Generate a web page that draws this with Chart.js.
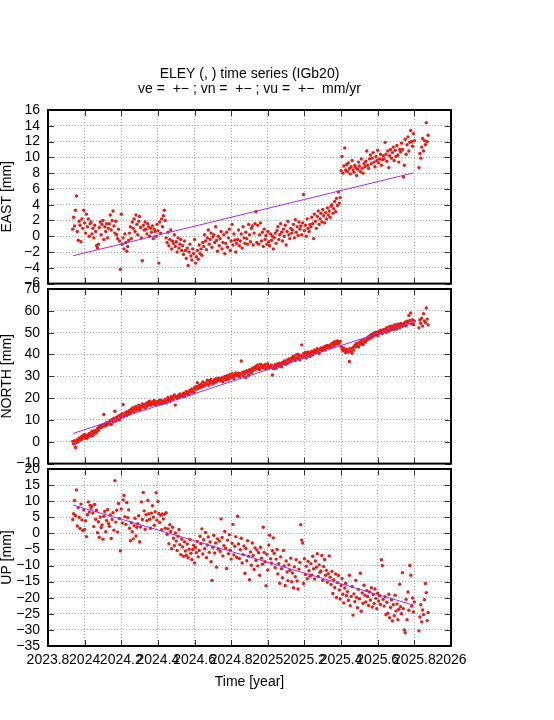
<!DOCTYPE html>
<html>
<head>
<meta charset="utf-8">
<title>ELEY time series</title>
<script src="https://cdn.jsdelivr.net/npm/chart.js@4.4.1/dist/chart.umd.min.js"></script>
<style>
  html, body { margin: 0; padding: 0; background: #fff; }
  #wrap { position: relative; width: 554px; height: 720px; }
  #wrap canvas { position: absolute; left: 0; }
</style>
</head>
<body>
<div id="wrap">
  <canvas id="eastChart" width="554" height="300" style="top:0px"></canvas>
  <canvas id="northChart" width="554" height="210" style="top:270px"></canvas>
  <canvas id="upChart" width="554" height="270" style="top:450px"></canvas>
</div>
<script>
// solutions every 0.005 yr starting at T0, null = no solution (gap before the last days)
const T0 = 2023.935;
const DT = 0.005;

const EAST = [
  0.9, 2.4, 1.3, 3.3, 5.1, 0.6, -0.5, 1.9, 1.4, -0.7, 2.2, 1.0, 3.3, 1.7, 0.4, 2.8, 1.2, 2.2, 0.0, 1.6,
  1.8, 0.3, 1.0, -0.2, 1.4, 0.6, -1.2, -1.5, -1.0, 1.1, 1.8, 0.2, 1.5, 2.0, -0.4, 1.2, 0.6, 1.6, -0.2, 1.0,
  1.6, 2.7, 0.8, 2.0, 3.2, 1.3, 0.4, 1.9, 0.2, -0.3, 0.9, -0.6, -4.2, 2.8, -1.0, -0.2, -1.6, 0.3, -0.8, -1.9,
  -1.3, -0.5, 0.4, 1.2, -0.3, 1.8, 1.0, 2.2, 0.6, 2.7, 1.5, 0.2, 1.9, 2.5, 1.1, -0.2, -3.1, 1.4, 0.8, 1.8,
  0.9, 0.3, 1.6, 1.2, 0.0, 1.0, 0.5, 1.3, -0.3, 0.9, 0.6, 0.0, 1.5, 0.7, -3.4, 1.8, 0.4, 2.2, 1.2, 2.6,
  3.3, 2.0, -0.2, -0.8, 0.5, -1.2, -0.4, 0.8, -1.6, -0.6, -0.9, 0.2, -1.3, -0.7, -2.0, -0.2, -1.5, -1.0, -0.4, -1.8,
  -1.2, -2.3, -0.6, -1.8, -2.8, -1.5, -3.7, -2.0, -1.0, -2.5, -3.0, -1.6, -2.2, -0.4, -3.4, -2.6, -1.8, -2.9, -1.1, -2.2,
  -1.6, -2.4, -0.8, -1.3, 0.2, -0.6, -1.7, -0.2, 0.8, -1.0, -0.4, 0.4, -1.4, -0.1, 0.2, -0.8, 1.2, -0.5, -1.9, 0.0,
  -1.2, -0.3, 0.6, -1.6, -0.8, 0.2, -2.2, -0.9, 0.5, -1.4, -0.2, 0.9, -1.8, -0.6, 1.5, -1.1, 0.3, -0.5, -2.0, -0.9,
  -0.4, 0.8, -1.2, -0.6, 0.3, -1.5, 1.2, -0.2, -0.9, 0.5, -0.3, -1.0, 1.5, 0.2, -0.7, 1.0, 1.3, -1.1, 0.4, 1.6,
  3.1, -0.8, 1.4, -1.0, 0.2, 1.7, -0.6, 0.5, -1.3, 0.9, -0.4, 0.1, -1.0, 0.6, -0.7, -1.2, 0.3, -0.5, 0.0, -1.6,
  -0.2, 0.4, -0.9, 0.7, 1.2, -0.4, 0.2, 1.6, 0.5, -0.6, 0.9, 0.0, 1.4, -1.1, 0.6, 1.9, 0.2, -0.3, 1.0, 0.4,
  0.8, 1.5, -0.2, 2.1, 0.5, 1.2, 0.1, 1.8, 0.9, 1.3, 0.2, 1.7, 5.3, 0.7, 1.4, 0.0, 2.2, 1.0, 0.6, 1.5,
  1.2, 2.4, 1.6, -0.3, 2.8, 1.9, 1.0, 2.5, 3.2, 1.5, 2.2, 2.9, 1.8, 3.4, 2.6, 1.7, 3.0, 2.2, 3.6, 2.7,
  3.2, 2.4, 3.8, 4.0, 2.9, 3.5, 4.4, 3.1, 4.8, 3.9, 5.6, 4.2, 4.9, 8.3, 10.1, 8.0, 8.9, 11.2, 8.4, 9.1,
  8.2, 9.3, 8.6, 7.9, 8.8, 9.6, 8.4, 8.1, 9.0, 8.7, 7.7, 8.5, 9.4, 8.9, 8.2, 9.8, 8.6, 8.0, 9.2, 8.8,
  9.5, 10.8, 9.0, 8.6, 9.8, 10.3, 9.2, 9.9, 10.6, 9.4, 8.8, 10.1, 9.6, 10.9, 9.3, 9.8, 10.4, 9.0, 9.7, 10.2,
  9.8, 11.9, 10.4, 9.5, 10.8, 8.7, 10.2, 11.0, 9.9, 10.6, 11.3, 9.6, 10.9, 10.1, 11.5, 10.3, 9.4, 11.0, 10.7, 11.8,
  11.0, 7.5, 9.0, 12.3, 10.4, 11.6, 12.6, 10.8, 11.9, 13.4, 12.0, 11.4, 13.0, 12.1, null, null, null, null, 8.7, 10.5,
  9.9, 11.3, 12.4, 10.8, 12.1, 11.6, 14.4, 12.0, 12.8
];

const NORTH = [
  0.2, -1.0, 0.5, -2.6, -0.3, 1.0, 0.0, 1.6, 0.8, 2.2, 1.1, 2.8, 1.9, 3.3, 2.4, 1.5, 3.0, 2.2, 3.8, 2.7,
  3.6, 4.8, 2.9, 4.1, 5.2, 3.9, 4.6, 6.1, 5.3, 7.0, 6.4, 7.5, 6.8, 7.9, 12.5, 7.2, 8.5, 7.6, 9.0, 8.1,
  8.4, 9.6, 7.9, 10.2, 9.1, 10.8, 14.0, 9.5, 11.3, 10.4, 11.8, 10.0, 12.2, 11.1, 12.9, 17.0, 11.6, 12.7, 13.5, 12.0,
  13.8, 12.6, 14.4, 13.2, 15.0, 14.1, 15.6, 13.7, 14.9, 16.2, 15.3, 14.5, 16.8, 15.7, 14.8, 16.4, 17.3, 15.9, 16.9, 15.4,
  17.5, 16.3, 18.1, 17.0, 18.6, 16.8, 17.7, 18.3, 17.2, 18.9, 17.6, 16.9, 18.4, 17.9, 18.8, 17.3, 19.2, 18.0, 17.5, 18.7,
  18.2, 19.4, 17.8, 18.9, 20.3, 19.0, 18.5, 19.9, 20.8, 19.3, 20.1, 21.4, 16.8, 20.6, 19.7, 21.1, 20.4, 21.9, 20.9, 21.5,
  21.0, 22.3, 20.7, 21.8, 23.1, 22.0, 22.7, 21.5, 23.6, 22.9, 24.2, 23.3, 22.6, 24.8, 23.9, 25.4, 27.1, 24.4, 25.8, 24.9,
  26.3, 25.1, 27.4, 26.0, 25.6, 27.0, 26.6, 28.2, 25.9, 27.7, 26.8, 28.6, 27.3, 26.5, 28.0, 27.2, 28.9, 27.6, 28.4, 29.1,
  27.9, 28.7, 28.1, 29.4, 27.5, 28.8, 29.9, 28.3, 29.2, 30.4, 28.6, 29.7, 30.9, 29.5, 31.2, 30.1, 29.0, 30.7, 31.5, 30.3,
  30.6, 31.4, 29.8, 30.9, 37.0, 31.7, 30.2, 32.1, 31.0, 29.5, 32.6, 31.8, 30.5, 33.0, 32.3, 31.5, 33.6, 32.8, 34.1, 33.2,
  34.6, 33.4, 35.2, 34.0, 33.1, 35.6, 34.4, 35.0, 33.8, 34.9, 35.4, 33.6, 34.3, 35.8, 34.7, 33.9, 34.5, 35.1, 30.6, 33.5,
  34.2, 35.3, 33.7, 34.9, 35.8, 34.6, 36.0, 35.2, 34.4, 36.3, 35.7, 37.0, 36.5, 35.5, 37.4, 36.1, 38.0, 37.2, 36.6, 38.4,
  37.8, 39.2, 38.5, 37.2, 39.8, 38.3, 40.1, 38.9, 37.6, 39.5, 44.4, 38.7, 40.4, 39.3, 40.9, 38.4, 39.9, 41.2, 40.2, 39.1,
  40.6, 41.5, 39.8, 41.0, 42.1, 40.9, 41.7, 42.6, 41.2, 40.5, 42.3, 43.0, 41.8, 42.7, 43.4, 42.0, 43.8, 42.9, 44.1, 43.3,
  43.6, 44.4, 43.2, 44.9, 45.3, 44.0, 45.8, 44.7, 45.5, 46.2, 44.9, 45.7, 46.0, 43.8, 42.5, 41.7, 43.0, 42.2, 40.9, 41.6,
  42.4, 41.2, 36.8, 42.8, 41.5, 40.6, 43.2, 42.0, 44.3, 43.6, 45.1, 44.0, 43.4, 45.5, 44.7, 46.3, 45.2, 44.5, 46.8, 45.6,
  46.2, 47.5, 46.9, 48.1, 47.3, 48.8, 47.7, 49.3, 48.4, 49.9, 48.9, 50.2, 49.5, 48.7, 50.6, 49.8, 51.1, 50.3, 49.6, 51.4,
  50.8, 51.6, 50.2, 52.3, 51.2, 50.7, 52.8, 51.9, 51.3, 53.1, 52.4, 51.5, 53.6, 52.7, 51.8, 53.9, 53.0, 52.2, 54.2, 53.4,
  52.9, 54.1, 53.5, 54.8, 53.2, 55.2, 54.4, 57.9, 55.6, 59.0, 54.0, 55.9, 53.7, 55.3, null, null, null, null, 52.2, 55.8,
  54.3, 56.6, 53.0, 58.7, 55.4, 54.6, 61.3, 56.2, 53.6
];

const UP = [
  4.3, 6.1, 10.2, 5.5, 13.5, 2.3, 8.0, 5.0, 1.5, 9.1, 4.2, 0.9, 7.3, 1.2, 3.9, -1.0, 5.8, 9.8, 6.6, 8.7,
  7.9, 8.5, 6.3, 2.1, 9.0, 4.4, 7.2, 0.2, 3.6, -1.2, 5.1, 1.8, 2.6, -1.8, 5.3, 6.8, 0.5, 4.0, 7.4, 3.1,
  2.2, 5.7, -1.6, 4.3, 6.4, 1.0, 16.4, 3.5, 7.2, 0.4, 9.3, 4.6, -5.4, 7.6, 3.2, 10.4, 11.8, 5.2, 2.8, 9.6,
  4.9, 7.3, 1.6, -2.3, 3.3, 0.5, -1.7, 2.4, 4.7, -0.8, 1.9, 3.0, 5.5, -2.6, 2.0, 9.8, 4.3, 12.7, 7.0, 1.3,
  5.8, 3.9, 10.2, 6.1, 4.4, 1.6, 6.3, 8.6, 5.0, 2.5, 6.7, 12.6, 4.1, 9.9, 6.2, 3.4, 5.6, 1.1, 6.0, 4.5,
  5.9, 1.6, 6.4, -0.3, 1.4, -3.2, 2.7, 0.6, -4.8, 1.9, -1.5, -3.8, 0.1, -2.4, -5.3, -0.9, 1.2, -3.5, -6.6, -1.8,
  -4.2, -7.1, -2.6, -5.5, -6.8, -3.3, -7.6, -4.9, -1.9, -6.2, -8.1, -5.0, -3.7, -9.2, -4.4, -6.0, -2.5, -7.3, -5.3, -0.9,
  -3.2, 1.4, -6.4, -2.0, -4.8, 0.3, -7.5, -3.6, -1.1, -5.9, -2.7, -8.8, -14.6, -4.3, -0.6, -6.1, -3.0, -10.5, -1.7, -4.9,
  -2.4, -5.6, 4.5, -1.3, -7.0, -3.8, 0.6, -4.6, -10.9, -2.1, -6.3, -0.4, -5.2, -8.0, -3.1, 2.8, -6.7, -4.0, -1.0, -7.4,
  5.3, -3.3, -7.8, -5.1, -1.5, -9.2, -6.6, -3.9, -12.4, -4.7, -8.5, -2.3, -7.1, -14.4, -5.8, -9.9, -3.0, -6.9, -11.2, -4.5,
  -8.4, -5.2, -10.1, -6.0, -13.0, -4.3, -7.7, -9.6, 1.9, -5.9, -8.8, -16.3, -6.5, -11.4, -3.6, -0.6, -7.9, -9.3, -5.4, -1.4,
  -6.2, -10.7, -8.0, -5.0, -12.6, -9.4, -15.5, -7.3, -11.0, -13.8, -5.3, -10.1, -16.2, -8.6, -12.0, -14.7, -9.8, -11.5, -7.7, -15.0,
  -12.3, -16.9, -10.4, -13.5, -8.2, -14.8, -17.3, -11.1, -9.0, 2.7, -2.1, -3.0, -15.6, -7.9, -12.8, -10.2, -14.1, -8.7, -11.6, -13.3,
  -9.4, -12.9, -7.1, -11.0, -14.2, -8.6, -10.5, -6.3, -13.4, -9.8, -12.1, -11.7, -6.9, -14.6, -10.3, -8.1, -13.0, -11.5, -15.2, -12.5,
  -7.0, -13.6, -15.9, -11.8, -18.7, -14.4, -16.8, -12.6, -19.9, -15.3, -13.1, -17.6, -20.4, -16.2, -14.0, -18.9, -21.6, -17.0, -15.5, -19.4,
  -18.1, -20.8, -13.0, -22.5, -19.6, -16.5, -25.4, -18.8, -21.2, -14.6, -19.9, -23.1, -17.4, -20.3, -12.4, -24.2, -18.5, -21.7, -16.1, -19.2,
  -21.3, -17.8, -19.6, -22.4, -18.2, -20.7, -16.9, -22.9, -19.0, -21.8, -17.3, -20.2, -23.4, -18.6, -21.0, -19.4, -22.1, -8.2, -10.0, -20.5,
  -22.6, -19.7, -25.3, -21.4, -24.8, -18.9, -26.2, -23.0, -20.6, -27.2, -22.2, -25.6, -19.2, -24.1, -21.9, -26.8, -23.6, -15.8, -22.8, -25.0,
  -12.2, -23.4, -30.0, -30.9, -20.5, -26.8, -18.2, -23.9, -10.0, -13.0, -22.6, -20.1, -24.4, -21.3, null, null, null, null, -30.3, -26.0,
  -22.2, -27.5, -23.8, -25.2, -20.6, -15.6, -18.4, -27.1, -24.6
];

// linear fit lines (start / end epoch and value)
const TREND_T = [2023.937, 2025.796];
const EAST_TREND = [-2.47, 8.03];
const NORTH_TREND = [3.8, 55.0];
const UP_TREND = [8.8, -22.3];

const TIMES = EAST.map((_, i) => +(T0 + i * DT).toFixed(3));

Chart.defaults.font.family = '"Liberation Sans", Arial, sans-serif';
Chart.defaults.font.size = 14;
Chart.defaults.color = '#000';

const PLOT_LEFT = 48;
const PLOT_RIGHT = 451;
const W = 554;

function minus(v) {
    const r = Math.round(v);
    return r < 0 ? '\u2212' + Math.abs(r) : String(r);
}

function toPoints(values) {
    const pts = [];
    values.forEach((v, i) => {
        if (v !== null) pts.push({ x: TIMES[i], y: v });
    });
    return pts;
}

// gnuplot style frame: border all round plus inward ticks
const framePlugin = {
    id: 'frame',
    afterDraw(chart) {
        const { ctx, chartArea: a, scales: { x, y } } = chart;
        ctx.save();
        ctx.strokeStyle = '#333';
        ctx.lineWidth = 1;
        ctx.beginPath();
        x.ticks.forEach(t => {
            const px = Math.round(x.getPixelForValue(t.value)) + 0.5;
            ctx.moveTo(px, a.top); ctx.lineTo(px, a.top + 6);
            ctx.moveTo(px, a.bottom); ctx.lineTo(px, a.bottom - 6);
        });
        y.ticks.forEach(t => {
            const py = Math.round(y.getPixelForValue(t.value)) + 0.5;
            ctx.moveTo(a.left, py); ctx.lineTo(a.left + 6, py);
            ctx.moveTo(a.right, py); ctx.lineTo(a.right - 6, py);
        });
        ctx.stroke();
        ctx.strokeStyle = '#000';
        ctx.lineWidth = 2;
        ctx.strokeRect(a.left, a.top, a.right - a.left, a.bottom - a.top);
        ctx.restore();
    }
};

const headerPlugin = {
    id: 'header',
    afterDraw(chart) {
        const { ctx, chartArea: a } = chart;
        const cx = (a.left + a.right) / 2;
        ctx.save();
        ctx.fillStyle = '#000';
        ctx.font = '14px "Liberation Sans", Arial, sans-serif';
        ctx.textAlign = 'center';
        ctx.textBaseline = 'alphabetic';
        ctx.fillText('ELEY (, ) time series (IGb20)', cx, 78);
        ctx.fillText('ve =  +\u2212 ; vn =  +\u2212 ; vu =  +\u2212  mm/yr', cx, 92.5);
        ctx.restore();
    }
};

function makePanel(id, canvasTop, canvasHeight, plotTop, plotBottom, yTitle, yMin, yMax, yStep, values, trend, isBottom, extra) {
    const gridStyle = { color: '#a8a8a8', lineWidth: 1, drawTicks: false };
    const borderStyle = { display: false, dash: [1, 2] };
    const xHeight = canvasHeight - (plotBottom - canvasTop);
    return new Chart(document.getElementById(id).getContext('2d'), {
        type: 'scatter',
        data: {
            datasets: [{
                data: TREND_T.map((t, i) => ({ x: t, y: trend[i] })),
                showLine: true,
                borderColor: '#9b30e0',
                borderWidth: 1,
                pointRadius: 0,
                order: 0
            }, {
                data: toPoints(values),
                backgroundColor: 'rgb(232, 28, 22)',
                borderWidth: 0,
                pointRadius: 1.7,
                order: 1
            }]
        },
        options: {
            responsive: false,
            animation: false,
            devicePixelRatio: 1,
            layout: { padding: { top: plotTop - canvasTop, left: 0, right: W - PLOT_RIGHT, bottom: 0 } },
            plugins: { legend: { display: false }, tooltip: { enabled: false } },
            scales: {
                x: {
                    type: 'linear',
                    min: 2023.8,
                    max: 2026,
                    grid: gridStyle,
                    border: borderStyle,
                    ticks: {
                        display: isBottom,
                        stepSize: 0.2,
                        maxTicksLimit: 20,
                        autoSkip: false,
                        maxRotation: 0,
                        minRotation: 0,
                        padding: 6,
                        callback: v => String(Math.round(v * 10) / 10)
                    },
                    title: {
                        display: isBottom,
                        text: 'Time [year]',
                        font: { size: 14, lineHeight: 1 },
                        padding: { top: 0, bottom: 31 }
                    },
                    afterFit: s => { s.height = xHeight; }
                },
                y: {
                    type: 'linear',
                    min: yMin,
                    max: yMax,
                    grid: gridStyle,
                    border: borderStyle,
                    ticks: {
                        stepSize: yStep,
                        maxTicksLimit: 20,
                        autoSkip: false,
                        padding: 8,
                        callback: minus
                    },
                    title: {
                        display: true,
                        text: yTitle,
                        font: { size: 14, lineHeight: 1 },
                        padding: 0
                    },
                    afterFit: s => { s.width = PLOT_LEFT; }
                }
            }
        },
        plugins: [framePlugin].concat(extra || [])
    });
}

makePanel('eastChart', 0, 300, 110, 286, 'EAST [mm]', -6, 16, 2, EAST, EAST_TREND, false, [headerPlugin]);
makePanel('northChart', 270, 210, 289, 466, 'NORTH [mm]', -10, 70, 10, NORTH, NORTH_TREND, false);
makePanel('upChart', 450, 270, 469, 646, 'UP [mm]', -35, 20, 5, UP, UP_TREND, true);
</script>
</body>
</html>
